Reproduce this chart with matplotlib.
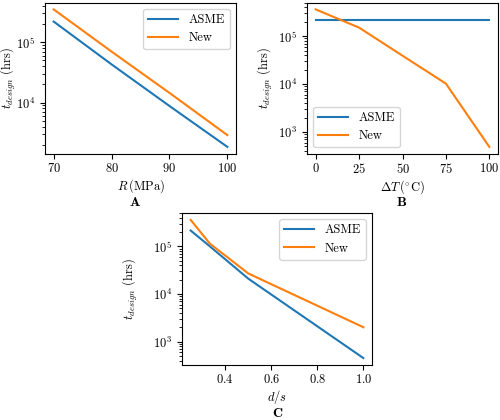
import matplotlib
matplotlib.use("Agg")
import matplotlib.pyplot as plt

plt.rcParams["font.family"] = ["cmr10", "DejaVu Serif"]
plt.rcParams["mathtext.fontset"] = "cm"
plt.rcParams["axes.formatter.use_mathtext"] = True
plt.rcParams["font.size"] = 9
plt.rcParams["xtick.major.pad"] = 2.5
plt.rcParams["axes.labelpad"] = 1.5

# Panel A: design life vs stress
r_mpa = [70, 80, 90, 100]
a_asme = [2.2e5, 4.3e4, 8.8e3, 1.85e3]
a_new = [3.5e5, 7.0e4, 1.45e4, 2.9e3]

# Panel B: design life vs temperature difference
dt_c = [0, 25, 50, 75, 100]
b_asme = [2.2e5, 2.2e5, 2.2e5, 2.2e5, 2.2e5]
b_new = [3.6e5, 1.5e5, 3.9e4, 1.02e4, 4.9e2]

# Panel C: design life vs d/s
d_s = [0.25, 1 / 3, 0.5, 1.0]
c_asme = [2.15e5, 1.0e5, 2.1e4, 4.5e2]
c_new = [3.6e5, 1.14e5, 2.7e4, 2.0e3]

blue = "#1f77b4"
orange = "#ff7f0e"
ylab = r"$t_{design}$ (hrs)"

fig = plt.figure(figsize=(5, 4.2), dpi=100)
ax_a = fig.add_axes([0.09, 0.634, 0.382, 0.36])
ax_b = fig.add_axes([0.614, 0.634, 0.382, 0.36])
ax_c = fig.add_axes([0.364, 0.131, 0.38, 0.362])

ax_a.plot(r_mpa, a_asme, color=blue, label="ASME")
ax_a.plot(r_mpa, a_new, color=orange, label="New")
ax_a.set_yscale("log")
ax_a.set_xticks([70, 80, 90, 100])
ax_a.set_xlabel(r"$R\,$(MPa)")
ax_a.set_ylabel(ylab)
ax_a.yaxis.set_label_coords(-0.14, 0.5)
ax_a.legend(loc="upper right", handlelength=2.4)

ax_b.plot(dt_c, b_asme, color=blue, label="ASME")
ax_b.plot(dt_c, b_new, color=orange, label="New")
ax_b.set_yscale("log")
ax_b.set_xticks([0, 25, 50, 75, 100])
ax_b.set_xlabel(r"$\Delta T\,(^{\circ}\mathrm{C})$")
ax_b.set_ylabel(ylab)
ax_b.yaxis.set_label_coords(-0.17, 0.5)
ax_b.legend(loc="lower left", handlelength=2.4)

ax_c.plot(d_s, c_asme, color=blue, label="ASME")
ax_c.plot(d_s, c_new, color=orange, label="New")
ax_c.set_yscale("log")
ax_c.set_xticks([0.4, 0.6, 0.8, 1.0])
ax_c.set_xlabel(r"$d/s$")
ax_c.set_ylabel(ylab)
ax_c.yaxis.set_label_coords(-0.22, 0.5)
ax_c.legend(loc="upper right", handlelength=2.4)

fig.text(0.27, 0.517, r"$\mathbf{A}$", ha="center", va="center", fontsize=10)
fig.text(0.804, 0.517, r"$\mathbf{B}$", ha="center", va="center", fontsize=10)
fig.text(0.556, 0.015, r"$\mathbf{C}$", ha="center", va="center", fontsize=10)

fig.savefig("out.png", dpi=100)
